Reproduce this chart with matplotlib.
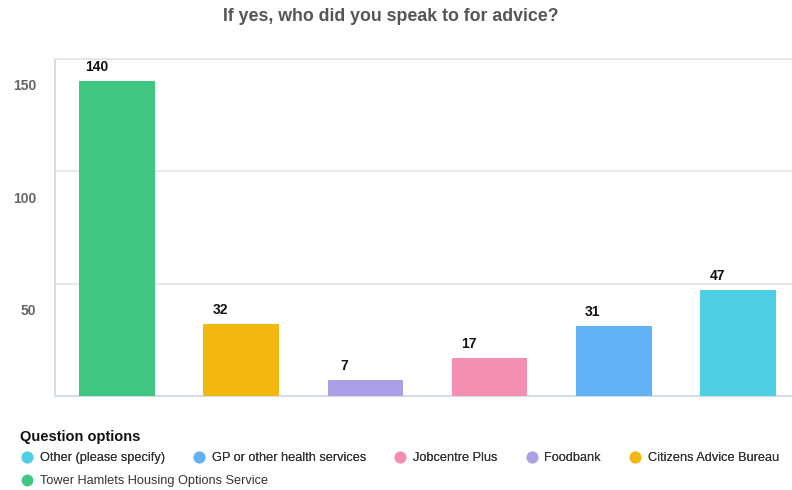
import matplotlib.pyplot as plt
import matplotlib.transforms as mtransforms
from matplotlib.lines import Line2D

plt.rcParams['font.family'] = ['Liberation Sans', 'DejaVu Sans']

# survey answers, in bar order
categories = ['Tower Hamlets Housing Options Service', 'Citizens Advice Bureau',
              'Foodbank', 'Jobcentre Plus', 'GP or other health services',
              'Other (please specify)']
counts = [140, 32, 7, 17, 31, 47]
colors = ['#40c682', '#f2b811', '#ab9fe6', '#f48fb1', '#62b2f5', '#4fd0e2']
y_ticks = [50, 100, 150]

fig = plt.figure(figsize=(7.92, 4.90), dpi=100)
ax = fig.add_axes([55 / 792, 94 / 490, 745 / 792, 337 / 490])

x = list(range(len(categories)))
bars = ax.bar(x, counts, width=0.61, color=colors, zorder=3)

for xi, v in zip(x, counts):
    ax.annotate(str(v), (xi, v), xytext=(-15, 10.2), textcoords='offset points',
                ha='center', va='center', fontsize=10, fontweight='bold', color='#111111')

ax.set_xlim(-0.5, len(categories) - 0.5)
ax.set_ylim(0, 150)
ax.set_xticks([])
ax.set_yticks(y_ticks)
ax.yaxis.grid(True, color='#e6e6e6', linewidth=1.3, zorder=0)
ax.tick_params(axis='y', length=0, pad=13.5, labelsize=10, labelcolor='#666666')
for lbl in ax.get_yticklabels():
    lbl.set_fontweight('bold')
    lbl.set_transform(lbl.get_transform() +
                      mtransforms.ScaledTranslation(0, -0.26, fig.dpi_scale_trans))

ax.spines['right'].set_visible(False)
ax.spines['top'].set_color('#e6e6e6')
ax.spines['top'].set_linewidth(1.3)
for s in ('left', 'bottom'):
    ax.spines[s].set_color('#d5dde8')
    ax.spines[s].set_linewidth(1.5)

fig.text(0.493, 0.966, 'If yes, who did you speak to for advice?', ha='center', va='center',
         fontsize=12.8, fontweight='bold', color='#555555')

# legend
fig.text(20 / 792, 1 - 437 / 490, 'Question options', ha='left', va='center',
         fontsize=10.5, fontweight='bold', color='#111111')


def handle(c):
    return Line2D([], [], marker='o', linestyle='none', markersize=7.5,
                  markerfacecolor=c, markeredgecolor=c)


row1 = [5, 4, 3, 2, 1]
leg1 = fig.legend([handle(colors[i]) for i in row1], [categories[i] for i in row1],
                  ncol=5, loc='center left', bbox_to_anchor=(22 / 792, 1 - 458 / 490),
                  frameon=False, fontsize=9.2, handlelength=0.8, handletextpad=0.6,
                  columnspacing=2.27, borderaxespad=0, borderpad=0)
for t in leg1.get_texts():
    t.set_color('#333333')
fig.add_artist(leg1)
leg2 = fig.legend([handle(colors[0])], [categories[0]], loc='center left',
                  bbox_to_anchor=(22 / 792, 1 - 481 / 490), frameon=False, fontsize=9.2,
                  handlelength=0.8, handletextpad=0.6, borderaxespad=0, borderpad=0)
for t in leg2.get_texts():
    t.set_color('#333333')

fig.savefig('out.png', dpi=100)
